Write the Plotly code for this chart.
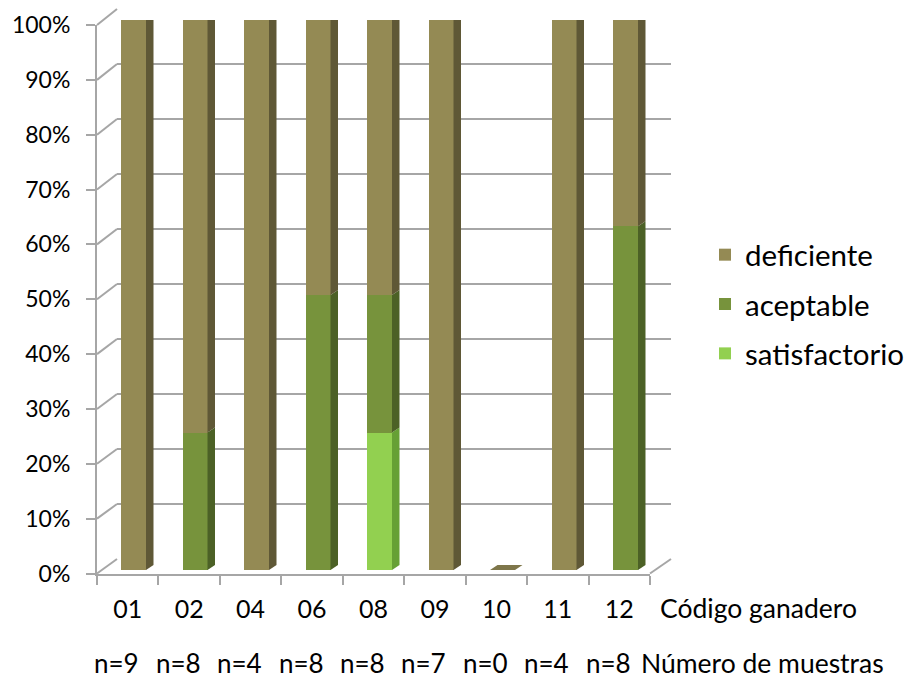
import plotly.graph_objects as go

# Results per cattle farm (percent of samples in each class)
codes = ["01", "02", "04", "06", "08", "09", "10", "11", "12"]
n_muestras = [9, 8, 4, 8, 8, 7, 0, 4, 8]
satisfactorio = [0, 0, 0, 0, 25, 0, 0, 0, 0]
aceptable = [0, 25, 0, 50, 25, 0, 0, 0, 62.5]
deficiente = [100, 75, 100, 50, 50, 100, 0, 100, 37.5]
y_ticks = list(range(0, 101, 10))

W, H = 916, 680
FONT = "Lato"
GRID = "#a6a6a6"


def fx(px):
    return px / W


def fy(py):
    return (H - py) / H


# three planes of the pseudo-3D box: back wall, bar plane, front axes
BACK_X, BACK_Y = (117, 671), (559, 9)
BAR_X, BAR_Y = (102.75, 656.25), (570, 20)
FRONT_X, FRONT_Y = (97, 650), (573.5, 25)

# bar geometry in data units of the bar plane
BAR_W = 25 / 61.5
DEPTH_X = 7.5 / 61.5
DEPTH_Y = 5 / 5.5

series = [
    ("satisfactorio", satisfactorio, "#92d050", "#66a035", "#7fbf45"),
    ("aceptable", aceptable, "#77933c", "#4c6126", "#687f34"),
    ("deficiente", deficiente, "#948a54", "#5f5836", "#7e764a"),
]

fig = go.Figure()

# back wall gridlines (drawn first so bars sit on top)
fig.add_trace(go.Scatter(x=[0, 1], y=[0, 0], mode="markers", marker=dict(opacity=0),
                         hoverinfo="skip", showlegend=False, xaxis="x", yaxis="y"))

xpos = list(range(len(codes)))
base = [0.0] * len(codes)
tops = {}
for rank, (name, vals, c_front, c_side, c_top) in enumerate(series):
    fig.add_trace(go.Bar(x=xpos, y=vals, name=name, width=BAR_W,
                         marker=dict(color=c_front, line=dict(width=0)),
                         xaxis="x2", yaxis="y2", legendgroup=name, legendrank=10 - rank))
    sx, sy = [], []
    for i, v in enumerate(vals):
        b, t = base[i], base[i] + v
        if v > 0:
            r = i + BAR_W / 2
            sx += [r, r + DEPTH_X, r + DEPTH_X, r, r, None]
            sy += [b, b + DEPTH_Y, t + DEPTH_Y, t, b, None]
        base[i] = t
    fig.add_trace(go.Scatter(x=sx, y=sy, mode="lines", fill="toself", fillcolor=c_side,
                             line=dict(width=0), hoverinfo="skip", showlegend=False,
                             xaxis="x2", yaxis="y2"))
    tops[name] = (vals, c_top)

# top caps: coloured by the uppermost series of each column
cap_x, cap_y = {}, {}
for i in xpos:
    top_name = "deficiente"
    for name, vals, *_ in reversed(series):
        if vals[i] > 0:
            top_name = name
            break
    t = base[i]
    l, r = i - BAR_W / 2, i + BAR_W / 2
    cap_x.setdefault(top_name, []).extend([l, r, r + DEPTH_X, l + DEPTH_X, l, None])
    cap_y.setdefault(top_name, []).extend([t, t, t + DEPTH_Y, t + DEPTH_Y, t, None])
for name in cap_x:
    fig.add_trace(go.Scatter(x=cap_x[name], y=cap_y[name], mode="lines", fill="toself",
                             fillcolor=tops[name][1], line=dict(width=0), hoverinfo="skip",
                             showlegend=False, xaxis="x2", yaxis="y2"))

# front axes carrying the labels
fig.add_trace(go.Scatter(x=codes, y=[0] * len(codes), mode="markers", marker=dict(opacity=0),
                         hoverinfo="skip", showlegend=False, xaxis="x3", yaxis="y3"))

hidden = dict(showgrid=False, zeroline=False, showticklabels=False, ticks="",
              showline=False, automargin=False)

# diagonal edges linking front axis to back wall
shapes = []
def y_front(v):
    return fy(FRONT_Y[0]) + v / 100 * (fy(FRONT_Y[1]) - fy(FRONT_Y[0]))
def y_back(v):
    return fy(BACK_Y[0]) + v / 100 * (fy(BACK_Y[1]) - fy(BACK_Y[0]))
line_style = dict(color=GRID, width=2)
for v in y_ticks:
    shapes.append(dict(type="line", xref="paper", yref="paper", x0=fx(FRONT_X[0]), y0=y_front(v),
                       x1=fx(BACK_X[0]), y1=y_back(v), line=line_style, layer="below"))
shapes.append(dict(type="line", xref="paper", yref="paper", x0=fx(FRONT_X[1]), y0=y_front(0),
                   x1=fx(BACK_X[1]), y1=y_back(0), line=line_style, layer="below"))

# sample counts under each farm code
annotations = [
    dict(text=f"n={k}", xref="x3", yref="paper", x=i, y=fy(663), xanchor="center",
         yanchor="middle", xshift=-11, showarrow=False, font=dict(size=26))
    for i, k in enumerate(n_muestras)
]
annotations += [
    dict(text="Código ganadero", xref="paper", yref="paper", x=fx(658), y=fy(608),
         xanchor="left", yanchor="middle", showarrow=False, font=dict(size=26.5)),
    dict(text="Número de muestras", xref="paper", yref="paper", x=fx(639), y=fy(663),
         xanchor="left", yanchor="middle", showarrow=False, font=dict(size=26.5)),
]

fig.update_layout(
    width=W, height=H,
    margin=dict(l=0, r=0, t=0, b=0, autoexpand=False),
    paper_bgcolor="white", plot_bgcolor="rgba(0,0,0,0)",
    font=dict(family=FONT, size=22, color="#000000"),
    barmode="stack",
    shapes=shapes,
    xaxis=dict(domain=[fx(BACK_X[0]), fx(BACK_X[1])], range=[0, 1], anchor="y", **hidden),
    yaxis=dict(domain=[fy(BACK_Y[0]), fy(BACK_Y[1])], range=[0, 100], anchor="x",
               tickvals=y_ticks, showgrid=True, gridcolor=GRID, gridwidth=2,
               zeroline=False, showticklabels=False, ticks="", showline=False,
               automargin=False),
    xaxis2=dict(domain=[fx(BAR_X[0]), fx(BAR_X[1])], range=[-0.5, len(codes) - 0.5],
                anchor="y2", **hidden),
    yaxis2=dict(domain=[fy(BAR_Y[0]), fy(BAR_Y[1])], range=[0, 100], anchor="x2", **hidden),
    xaxis3=dict(domain=[fx(FRONT_X[0]), fx(FRONT_X[1])], type="category",
                categoryorder="array", categoryarray=codes, anchor="y3",
                range=[-0.5, len(codes) - 0.5], autorange=False,
                tickvals=codes, ticktext=codes, tickson="boundaries",
                showline=True, linecolor=GRID, linewidth=2,
                ticks="outside", ticklen=9, tickcolor=GRID, tickwidth=2,
                ticklabelstandoff=12, automargin=False,
                showgrid=False, zeroline=False, tickfont=dict(size=25)),
    yaxis3=dict(domain=[fy(FRONT_Y[0]), fy(FRONT_Y[1])], range=[0, 100], anchor="x3",
                tickvals=y_ticks, ticktext=[f"{v}%" for v in y_ticks],
                showline=True, linecolor=GRID, linewidth=2,
                ticks="outside", ticklen=9, tickcolor=GRID, tickwidth=2,
                ticklabelstandoff=11, showgrid=False, zeroline=False,
                automargin=False, tickfont=dict(size=23)),
    legend=dict(x=fx(705), xanchor="left", y=fy(229), yanchor="top",
                traceorder="grouped", tracegroupgap=8, itemsizing="constant",
                font=dict(size=29.5), bgcolor="rgba(0,0,0,0)"),
    annotations=annotations,
)

fig.write_html("out.html")
